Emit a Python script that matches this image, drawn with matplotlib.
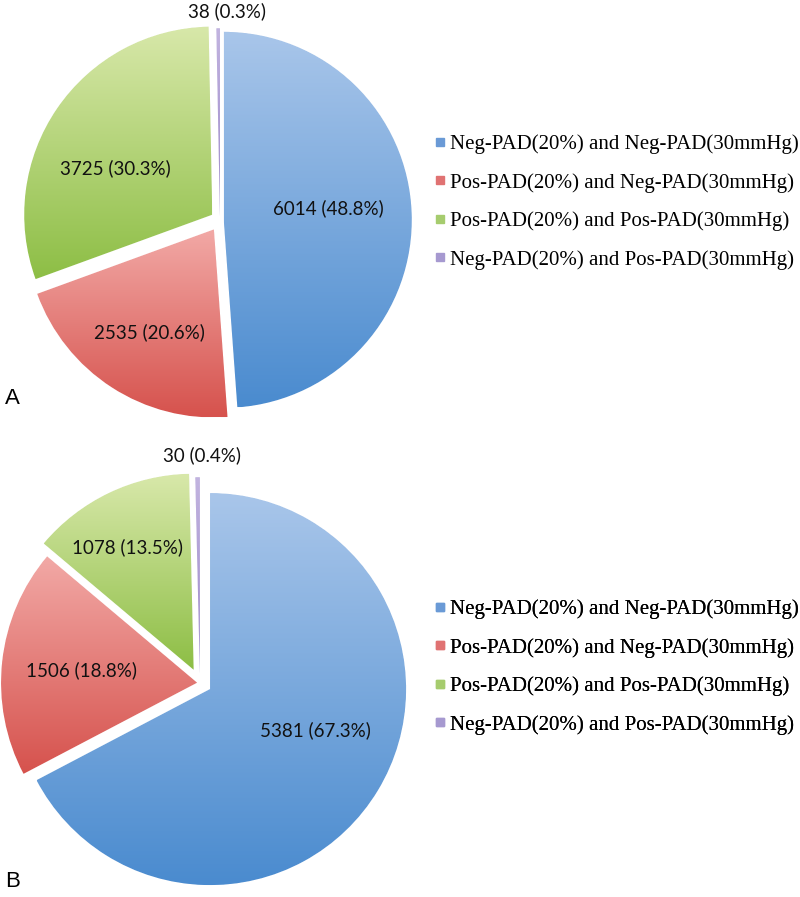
import numpy as np
import matplotlib
matplotlib.use("Agg")
import matplotlib.pyplot as plt
from matplotlib.lines import Line2D
from matplotlib.colors import to_rgb

# ---- data ----
categories = [
    "Neg-PAD(20%) and Neg-PAD(30mmHg)",
    "Pos-PAD(20%) and Neg-PAD(30mmHg)",
    "Pos-PAD(20%) and Pos-PAD(30mmHg)",
    "Neg-PAD(20%) and Pos-PAD(30mmHg)",
]
counts_a = [6014, 2535, 3725, 38]
pcts_a = [48.8, 20.6, 30.3, 0.3]
counts_b = [5381, 1506, 1078, 30]
pcts_b = [67.3, 18.8, 13.5, 0.4]

# gradient colours per slice (top -> bottom), plus legend swatch colours
TOPS = ["#A9C6EA", "#F2A9A6", "#D8E8AA", "#C2B4E0"]
BOTS = ["#4A8BCF", "#D6524D", "#8DBE45", "#9A86C8"]
SWATCH = ["#6A9AD6", "#E07272", "#A6CC6E", "#A699D0"]

W, H = 800, 897
fig = plt.figure(figsize=(W / 100, H / 100), dpi=100)
ax = fig.add_axes([0, 0, 1, 1])

LBL_FONT = ["Lato", "DejaVu Sans"]
LEG_FONT = ["Liberation Serif", "DejaVu Serif"]


def draw_pie(counts, pcts, center, radius, explode, label_pos):
    # matplotlib's explode is in data units, so scale the fractions by the radius
    wedges, _ = ax.pie(counts, explode=[e * radius for e in explode], startangle=90,
                       counterclock=False, center=(center[0], H - center[1]),
                       radius=radius, colors=SWATCH, frame=True,
                       wedgeprops=dict(edgecolor="white", linewidth=0.8))
    for w, c0, c1 in zip(wedges, TOPS, BOTS):
        bb = w.get_path().get_extents()
        t = np.linspace(0, 1, 256)[:, None, None]
        grad = (1 - t) * np.array(to_rgb(c1)) + t * np.array(to_rgb(c0))
        im = ax.imshow(grad, extent=[bb.x0, bb.x1, bb.y0, bb.y1], origin="lower",
                       aspect="auto", interpolation="bilinear", zorder=w.get_zorder() + 0.1)
        im.set_clip_path(w)
    for n, p, (x, y) in zip(counts, pcts, label_pos):
        ax.text(x, H - y, f"{n} ({p}%)", fontsize=13.5, family=LBL_FONT, color="#111111",
                ha="center", va="center", zorder=5)


# panel A
draw_pie(counts_a, pcts_a, center=(220, 220), radius=188,
         explode=[0.02, 0.06, 0.05, 0.02],
         label_pos=[(328, 208), (149, 332), (115, 168), (227, 11)])
# panel B
draw_pie(counts_b, pcts_b, center=(200, 683), radius=196,
         explode=[0.06, 0.015, 0.075, 0.05],
         label_pos=[(315, 730), (82, 670), (127, 547), (202, 455)])

ax.set_xlim(0, W)
ax.set_ylim(0, H)
ax.set_aspect("equal")
ax.axis("off")

ax.text(5, H - 398, "A", fontsize=16, family=["Liberation Sans", "DejaVu Sans"],
        ha="left", va="center")
ax.text(5, H - 881, "B", fontsize=16, family=["Liberation Sans", "DejaVu Sans"],
        ha="left", va="center")

handles = [Line2D([], [], marker="s", ls="", markersize=6, color=c) for c in SWATCH]
for top in (124, 589):
    leg = ax.legend(handles, categories, loc="upper left", bbox_to_anchor=(423, H - top),
                    bbox_transform=ax.transData, frameon=False, borderpad=0,
                    handlelength=0.6, handletextpad=0.22, labelspacing=0.9,
                    prop=dict(family=LEG_FONT, size=15))
    ax.add_artist(leg)

fig.savefig("out.png", dpi=100)
